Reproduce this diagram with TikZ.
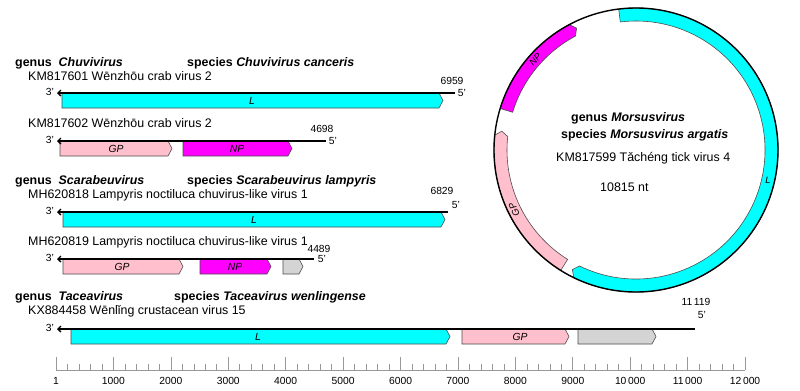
\documentclass[tikz,border=0pt]{standalone}
\usepackage{fontspec}
\setmainfont{Liberation Sans}
\usetikzlibrary{arrows.meta}
\definecolor{syaani}{rgb}{0.00, 1.00, 1.00}
\definecolor{roosa}{rgb}{1.00, 0.75, 0.80}
\definecolor{fuksia}{rgb}{1.00, 0.00, 1.00}
\definecolor{harmaa}{rgb}{0.83, 0.83, 0.83}
\definecolor{reuna}{rgb}{0.30, 0.30, 0.30}
\definecolor{viivaharmaa}{rgb}{0.60, 0.60, 0.60}
\tikzset{
  geeni/.style={draw=reuna, line width=0.5pt},
  genomi/.style={line width=1.1pt, {Straight Barb[length=2.5pt,width=5pt]}-},
  otsikko/.style={anchor=west, inner sep=0pt, font=\fontsize{10.6}{12}\selectfont\bfseries},
  nimi/.style={anchor=west, inner sep=0pt, font=\fontsize{10.6}{12}\selectfont},
  pieni/.style={inner sep=0pt, font=\fontsize{8.8}{10}\selectfont},
  geeninimi/.style={inner sep=0pt, font=\fontsize{8.8}{10}\selectfont\itshape},
  kaarinimi/.style={inner sep=0pt, font=\fontsize{8}{9}\selectfont\itshape},
  viivain/.style={draw=viivaharmaa, line width=0.5pt}
}

\begin{document}
\begin{tikzpicture}[x=0.03cm, y=-0.03cm]
				\useasboundingbox (0,0) rectangle (800,391);
				% Chuvivirus
				\node[otsikko] (suku1) at (15,63) {genus~~\textit{Chuvivirus}};
				\node[otsikko] (laji1) at (187,63) {species \textit{Chuvivirus canceris}};
				\node[nimi] (nimi1) at (28,76) {KM817601 Wēnzhōu crab virus 2};
				\node[pieni] (pit1) at (452,81) {6959};
				\draw[geeni, fill=syaani] (62,93) -- (439,93) -- (443,100.5) -- (439,108) -- (62,108) -- cycle;
				\node[geeninimi] (L1) at (252,100.5) {L};
				\draw[genomi] (57,93) -- (455,93);
				\node[pieni] (k31) at (50,92) {3'};
				\node[pieni] (k51) at (462,93) {5'};
				\node[nimi] (nimi2) at (28,123) {KM817602 Wēnzhōu crab virus 2};
				\node[pieni] (pit2) at (322,129) {4698};
				\draw[geeni, fill=roosa] (60,141) -- (168,141) -- (172,148.5) -- (168,156) -- (60,156) -- cycle;
				\draw[geeni, fill=fuksia] (183,141) -- (288,141) -- (292,148.5) -- (288,156) -- (183,156) -- cycle;
				\node[geeninimi] (GP2) at (116,148.5) {GP};
				\node[geeninimi] (NP2) at (237,148.5) {NP};
				\draw[genomi] (57,141) -- (326,141);
				\node[pieni] (k32) at (50,140) {3'};
				\node[pieni] (k52) at (333,141) {5'};
				% Scarabeuvirus
				\node[otsikko] (suku2) at (15,181) {genus~~\textit{Scarabeuvirus}};
				\node[otsikko] (laji2) at (187,181) {species \textit{Scarabeuvirus lampyris}};
				\node[nimi] (nimi3) at (28,195) {MH620818 Lampyris noctiluca chuvirus-like virus 1};
				\node[pieni] (pit3) at (442,191) {6829};
				\draw[geeni, fill=syaani] (63,212) -- (441,212) -- (445,219.5) -- (441,227) -- (63,227) -- cycle;
				\node[geeninimi] (L3) at (254,219.5) {L};
				\draw[genomi] (57,212) -- (448,212);
				\node[pieni] (k33) at (50,211) {3'};
				\node[pieni] (k53) at (456,205) {5'};
				\node[nimi] (nimi4) at (28,242) {MH620819 Lampyris noctiluca chuvirus-like virus 1};
				\node[pieni] (pit4) at (319,249) {4489};
				\draw[geeni, fill=roosa] (63,259) -- (179,259) -- (183,266.5) -- (179,274) -- (63,274) -- cycle;
				\draw[geeni, fill=fuksia] (200,259) -- (267,259) -- (271,266.5) -- (267,274) -- (200,274) -- cycle;
				\draw[geeni, fill=harmaa] (283,259) -- (299,259) -- (303,266.5) -- (299,274) -- (283,274) -- cycle;
				\node[geeninimi] (GP4) at (122,266.5) {GP};
				\node[geeninimi] (NP4) at (235,266.5) {NP};
				\draw[genomi] (57,259) -- (314,259);
				\node[pieni] (k34) at (50,258) {3'};
				\node[pieni] (k54) at (322,259) {5'};
				% Taceavirus
				\node[otsikko] (suku3) at (15,297) {genus~~\textit{Taceavirus}};
				\node[otsikko] (laji3) at (174,297) {species \textit{Taceavirus wenlingense}};
				\node[nimi] (nimi5) at (28,311) {KX884458 Wēnlǐng crustacean virus 15};
				\node[pieni] (pit5) at (696,302) {11\,119};
				\draw[geeni, fill=syaani] (71,329) -- (446,329) -- (450,336.5) -- (446,344) -- (71,344) -- cycle;
				\draw[geeni, fill=roosa] (462,329) -- (565,329) -- (569,336.5) -- (565,344) -- (462,344) -- cycle;
				\draw[geeni, fill=harmaa] (578,329) -- (652,329) -- (656,336.5) -- (652,344) -- (578,344) -- cycle;
				\node[geeninimi] (L5) at (258,336.5) {L};
				\node[geeninimi] (GP5) at (520,336.5) {GP};
				\draw[genomi] (57,329) -- (695,329);
				\node[pieni] (k35) at (50,328) {3'};
				\node[pieni] (k55) at (702,315) {5'};
				% viivain
				\draw[viivain] (56,370) -- (745,370);
				\foreach \n in {0,...,60}
					\draw[viivain] ({56+\n*11.484},370) -- ++(0,-6);
				\foreach \n in {0,...,12}
					\draw[viivain] ({56+\n*57.42},370) -- ++(0,-13);
				\foreach \n/\t in {0/1, 1/1000, 2/2000, 3/3000, 4/4000, 5/5000, 6/6000, 7/7000, 8/8000, 9/9000, 10/10\,000, 11/11\,000, 12/12\,000}
					\node[pieni] (asteikko\n) at ({56+\n*57.42},381) {\t};
				% Morsusvirus
				\begin{scope}[shift={(636,150)}, x=0.03cm, y=0.03cm]
					\draw[geeni, fill=syaani] (97:142) arc[start angle=97, end angle=-116, radius=142] -- (-118:135.5) -- (-116:129) arc[start angle=-116, end angle=97, radius=129] -- cycle;
					\draw[geeni, fill=roosa] (238:142) arc[start angle=238, end angle=174, radius=142] -- (172:135.5) -- (174:129) arc[start angle=174, end angle=238, radius=129] -- cycle;
					\draw[geeni, fill=fuksia] (163:142) arc[start angle=163, end angle=118, radius=142] -- (116:135.5) -- (118:129) arc[start angle=118, end angle=163, radius=129] -- cycle;
					\draw[line width=1.2pt] (0,0) circle[radius=142];
					\node[kaarinimi, rotate=48] (NPk) at (138:135.5) {NP};
					\node[kaarinimi, rotate=116] (GPk) at (206:135.5) {GP};
					\node[kaarinimi] (Lk) at (-13:135.5) {L};
				\end{scope}
				\node[otsikko] (suku4) at (571,118) {genus \textit{Morsusvirus}};
				\node[otsikko] (laji4) at (561,135) {species \textit{Morsusvirus argatis}};
				\node[nimi] (nimi6) at (556,158) {KM817599 Tǎchéng tick virus 4};
				\node[nimi] (pit6) at (600,187) {10815 nt};
			\end{tikzpicture}
\end{document}
